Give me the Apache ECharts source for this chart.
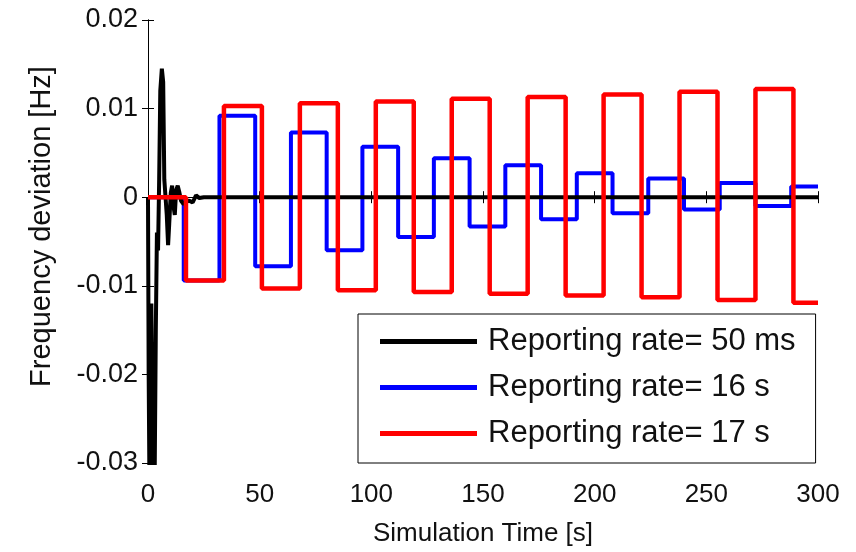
<!DOCTYPE html>
<html lang="en">
<head>
    <meta charset="UTF-8">
    <title>Frequency deviation</title>
    <script src="https://cdn.jsdelivr.net/npm/echarts@6/dist/echarts.min.js"></script>
    <style>
        html, body { margin: 0; padding: 0; background: #fff; }
        #chart { width: 856px; height: 552px; }
    </style>
</head>
<body>
<div id="chart"></div>
<script>
// 50 ms reporting: fast transient around t = 0..25 s, then flat
var blackTimes = [0, 0.3, 0.7, 1.1, 1.5, 2.0, 2.5, 3.0, 3.5, 4.0, 4.5, 5.0, 5.5, 6.2, 6.8, 7.3, 7.8, 8.4, 9.0, 9.5,
    10.2, 10.8, 11.4, 12.0, 12.6, 13.3, 14.0, 14.8, 16, 17, 18.5, 20, 21.5, 23, 25, 300];
var blackValues = [0, -0.02, -0.034, -0.03, -0.012, -0.026, -0.034, -0.031, -0.015, -0.004, -0.006, 0.002, 0.012, 0.0145, 0.013, 0.002, 0.0018, -0.002, -0.0054, -0.003,
    0.0005, 0.0013, -0.001, -0.002, 0.0008, 0.0013, 0.0006, -0.0004, -0.0008, -0.0005, -0.0004, -0.0006, 0.0002, -0.0001, 0, 0];

// 16 s reporting: one value per 16 s hold
var blueStep = 16;
var blueValues = [0, -0.0094, 0.0092, -0.0078, 0.0073, -0.0060, 0.0057, -0.0045, 0.0044, -0.0033, 0.0036, -0.0025,
    0.0027, -0.0018, 0.0021, -0.0014, 0.0016, -0.0010, 0.0012];

// 17 s reporting: one value per 17 s hold
var redStep = 17;
var redValues = [0, -0.0094, 0.0103, -0.0103, 0.0106, -0.0105, 0.0108, -0.0107, 0.0111, -0.0109, 0.0113, -0.0111,
    0.0116, -0.0113, 0.0119, -0.0116, 0.0122, -0.0119];

var xTicks = [0, 50, 100, 150, 200, 250, 300];
var yTicks = [-0.03, -0.02, -0.01, 0, 0.01, 0.02];
var seriesNames = ['Reporting rate= 50 ms', 'Reporting rate= 16 s', 'Reporting rate= 17 s'];

function holdPoints(step, values, tEnd) {
    var pts = [];
    for (var i = 0; i < values.length; i++) {
        pts.push([i * step, values[i]]);
    }
    pts.push([tEnd, values[values.length - 1]]);
    return pts;
}

var blackData = blackTimes.map(function (t, i) { return [t, blackValues[i]]; });
var xMax = xTicks[xTicks.length - 1];

var font = 'Liberation Sans, Arial, sans-serif';
var tickFmt = function (v) {
    if (Math.abs(v) < 1e-9) return '0';
    return v.toFixed(2);
};

var option = {
    animation: false,
    backgroundColor: '#fff',
    grid: { left: 148, right: 38, top: 20, bottom: 86 },
    legend: {
        data: seriesNames,
        orient: 'vertical',
        left: 358,
        top: 314,
        padding: [12, 20, 14, 22],
        itemGap: 15,
        itemWidth: 97,
        itemHeight: 5,
        icon: 'rect',
        borderColor: '#000',
        borderWidth: 1,
        backgroundColor: '#fff',
        textStyle: { fontFamily: font, fontSize: 31, color: '#111', lineHeight: 31, padding: [0, 0, 0, 6] }
    },
    xAxis: [{
        type: 'value',
        min: 0, max: xMax, interval: 50,
        name: 'Simulation Time [s]',
        nameLocation: 'middle',
        nameGap: 58,
        nameTextStyle: { fontFamily: font, fontSize: 26, color: '#111' },
        axisLine: { show: true, lineStyle: { color: '#000', width: 1 } },
        axisTick: { show: true, inside: true, length: 6, lineStyle: { color: '#000' } },
        axisLabel: { fontFamily: font, fontSize: 26, color: '#111', margin: 19 },
        splitLine: { show: false }
    }, {
        type: 'value', position: 'top',
        min: 0, max: xMax, interval: 50,
        axisLine: { show: true, lineStyle: { color: '#000', width: 1 } },
        axisTick: { show: true, inside: true, length: 6, lineStyle: { color: '#000' } },
        axisLabel: { show: false },
        splitLine: { show: false }
    }],
    yAxis: [{
        type: 'value',
        min: yTicks[0], max: yTicks[yTicks.length - 1], interval: 0.01,
        name: 'Frequency deviation [Hz]',
        nameLocation: 'middle',
        nameGap: 92,
        nameTextStyle: { fontFamily: font, fontSize: 29, color: '#111', padding: [0, 0, 0, 30] },
        axisLine: { show: true, lineStyle: { color: '#000', width: 1 } },
        axisTick: { show: true, inside: true, length: 6, lineStyle: { color: '#000' } },
        axisLabel: { fontFamily: font, fontSize: 27, color: '#111', margin: 10, formatter: tickFmt },
        splitLine: { show: false }
    }, {
        type: 'value', position: 'right',
        min: yTicks[0], max: yTicks[yTicks.length - 1], interval: 0.01,
        axisLine: { show: true, lineStyle: { color: '#000', width: 1 } },
        axisTick: { show: true, inside: true, length: 6, lineStyle: { color: '#000' } },
        axisLabel: { show: false },
        splitLine: { show: false }
    }],
    series: [{
        name: seriesNames[0],
        type: 'line',
        data: blackData,
        showSymbol: false,
        z: 3,
        clip: true,
        itemStyle: { color: '#000' },
        lineStyle: { color: '#000', width: 4 }
    }, {
        name: seriesNames[1],
        type: 'line',
        step: 'end',
        data: holdPoints(blueStep, blueValues, xMax),
        showSymbol: false,
        z: 2,
        itemStyle: { color: '#0000ff' },
        lineStyle: { color: '#0000ff', width: 4 }
    }, {
        name: seriesNames[2],
        type: 'line',
        step: 'end',
        data: holdPoints(redStep, redValues, xMax),
        showSymbol: false,
        z: 4,
        itemStyle: { color: '#ff0000' },
        lineStyle: { color: '#ff0000', width: 4.5 }
    }]
};

var chart = echarts.init(document.getElementById('chart'));
chart.setOption(option);
</script>
</body>
</html>
